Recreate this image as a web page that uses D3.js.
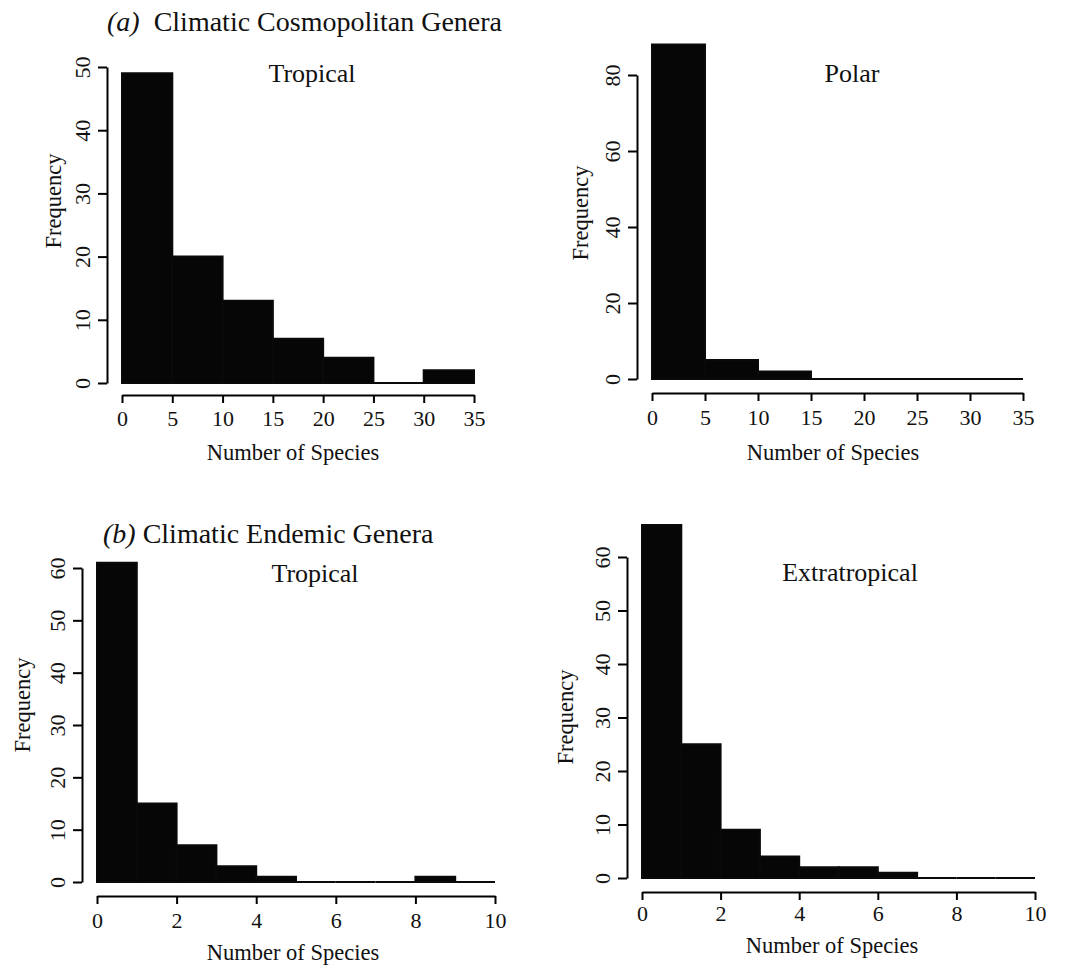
<!DOCTYPE html>
<html>
<head>
<meta charset="utf-8">
<script src="https://cdn.jsdelivr.net/npm/d3@7"></script>
<style>
  body { margin: 0; background: #fff; }
  svg text { font-family: "Liberation Serif", "Times New Roman", serif; fill: #111; }
</style>
</head>
<body>
<svg width="1065" height="970"></svg>
<script>
// histogram data
var cosmoBreaks = [0, 5, 10, 15, 20, 25, 30, 35];
var cosmoTropical = [49, 20, 13, 7, 4, 0, 2];
var cosmoPolar = [88, 5, 2, 0, 0, 0, 0];
var endemicBreaks = [0, 1, 2, 3, 4, 5, 6, 7, 8, 9, 10];
var endemicTropical = [61, 15, 7, 3, 1, 0, 0, 0, 1, 0];
var endemicExtratropical = [66, 25, 9, 4, 2, 2, 1, 0, 0, 0];

var cosmoXTicks = [0, 5, 10, 15, 20, 25, 30, 35];
var endemicXTicks = [0, 2, 4, 6, 8, 10];
var tropicalYTicks = [0, 10, 20, 30, 40, 50];
var polarYTicks = [0, 20, 40, 60, 80];
var endemicYTicks = [0, 10, 20, 30, 40, 50, 60];

var svg = d3.select("svg");

// one panel = one histogram; layout in pixels
var panels = [
  {title: "Tropical", breaks: cosmoBreaks, counts: cosmoTropical, xTicks: cosmoXTicks, yTicks: tropicalYTicks,
   xr: [122, 474], yr: [383, 67], axX: 107, axY: 395, tickLabY: 418,
   titlePos: [312, 82], xlabPos: [293, 452], ylabPos: [53, 201]},
  {title: "Polar", breaks: cosmoBreaks, counts: cosmoPolar, xTicks: cosmoXTicks, yTicks: polarYTicks,
   xr: [652, 1023], yr: [379, 75], axX: 637, axY: 393, tickLabY: 417,
   titlePos: [852, 82], xlabPos: [833, 452], ylabPos: [580, 213]},
  {title: "Tropical", breaks: endemicBreaks, counts: endemicTropical, xTicks: endemicXTicks, yTicks: endemicYTicks,
   xr: [97, 495], yr: [882, 568], axX: 82, axY: 896, tickLabY: 920,
   titlePos: [315, 582], xlabPos: [293, 952], ylabPos: [22, 705]},
  {title: "Extratropical", breaks: endemicBreaks, counts: endemicExtratropical, xTicks: endemicXTicks, yTicks: endemicYTicks,
   xr: [642, 1035], yr: [878, 557], axX: 627, axY: 892, tickLabY: 913,
   titlePos: [850, 581], xlabPos: [832, 945], ylabPos: [565, 717]}
];

panels.forEach(function(p) {
  var x = d3.scaleLinear()
    .domain([p.xTicks[0], p.xTicks[p.xTicks.length - 1]])
    .range(p.xr);
  var y = d3.scaleLinear()
    .domain([p.yTicks[0], p.yTicks[p.yTicks.length - 1]])
    .range(p.yr);

  var bins = p.counts.map(function(c, i) {
    return {x0: p.breaks[i], x1: p.breaks[i + 1], n: c};
  });

  var g = svg.append("g");

  // paths instead of rects so empty bins still show as a line on the baseline
  g.selectAll("path.bar")
    .data(bins)
    .enter().append("path")
      .attr("class", "bar")
      .attr("d", function(d) {
        return "M" + x(d.x0) + "," + y(0) + "V" + y(d.n) + "H" + x(d.x1) + "V" + y(0) + "Z";
      })
      .attr("fill", "#060606")
      .attr("stroke", "#0a0a0a")
      .attr("stroke-width", 2)
      .attr("stroke-linejoin", "miter");

  // x axis (R style: detached below the bars)
  var xa = g.append("g")
    .attr("transform", "translate(0," + p.axY + ")")
    .call(d3.axisBottom(x).tickValues(p.xTicks).tickSize(8).tickSizeOuter(0).tickFormat(d3.format("d")));
  xa.select(".domain").attr("stroke", "#000").attr("stroke-width", 2);
  xa.selectAll(".tick line").attr("stroke", "#000").attr("stroke-width", 2);
  xa.selectAll("text")
    .attr("y", p.tickLabY - p.axY)
    .attr("dy", "0.35em")
    .style("font-size", "22px")
    .attr("fill", "#111");

  // y axis with rotated labels
  var ya = g.append("g")
    .attr("transform", "translate(" + p.axX + ",0)")
    .call(d3.axisLeft(y).tickValues(p.yTicks).tickSize(9).tickSizeOuter(0).tickFormat(d3.format("d")));
  ya.select(".domain").attr("stroke", "#000").attr("stroke-width", 2);
  ya.selectAll(".tick line").attr("stroke", "#000").attr("stroke-width", 2);
  ya.selectAll("text")
    .attr("x", 0)
    .attr("dy", "0.35em")
    .attr("text-anchor", "middle")
    .attr("transform", "translate(-25,0) rotate(-90)")
    .style("font-size", "22px")
    .attr("fill", "#111");

  g.append("text")
    .attr("x", p.titlePos[0])
    .attr("y", p.titlePos[1])
    .attr("text-anchor", "middle")
    .style("font-size", "26px")
    .text(p.title);

  g.append("text")
    .attr("x", p.xlabPos[0])
    .attr("y", p.xlabPos[1])
    .attr("dy", "0.35em")
    .attr("text-anchor", "middle")
    .style("font-size", "22.5px")
    .text("Number of Species");

  g.append("text")
    .attr("transform", "translate(" + p.ylabPos[0] + "," + p.ylabPos[1] + ") rotate(-90)")
    .attr("dy", "0.35em")
    .attr("text-anchor", "middle")
    .style("font-size", "22.5px")
    .text("Frequency");
});

// section headers
var hA = svg.append("text").attr("x", 107).attr("y", 31).style("font-size", "28px");
hA.append("tspan").style("font-style", "italic").text("(a)");
hA.append("tspan").attr("dx", 14).text("Climatic Cosmopolitan Genera");

var hB = svg.append("text").attr("x", 103).attr("y", 543).style("font-size", "28px");
hB.append("tspan").style("font-style", "italic").text("(b)");
hB.append("tspan").attr("dx", 7).text("Climatic Endemic Genera");
</script>
</body>
</html>
